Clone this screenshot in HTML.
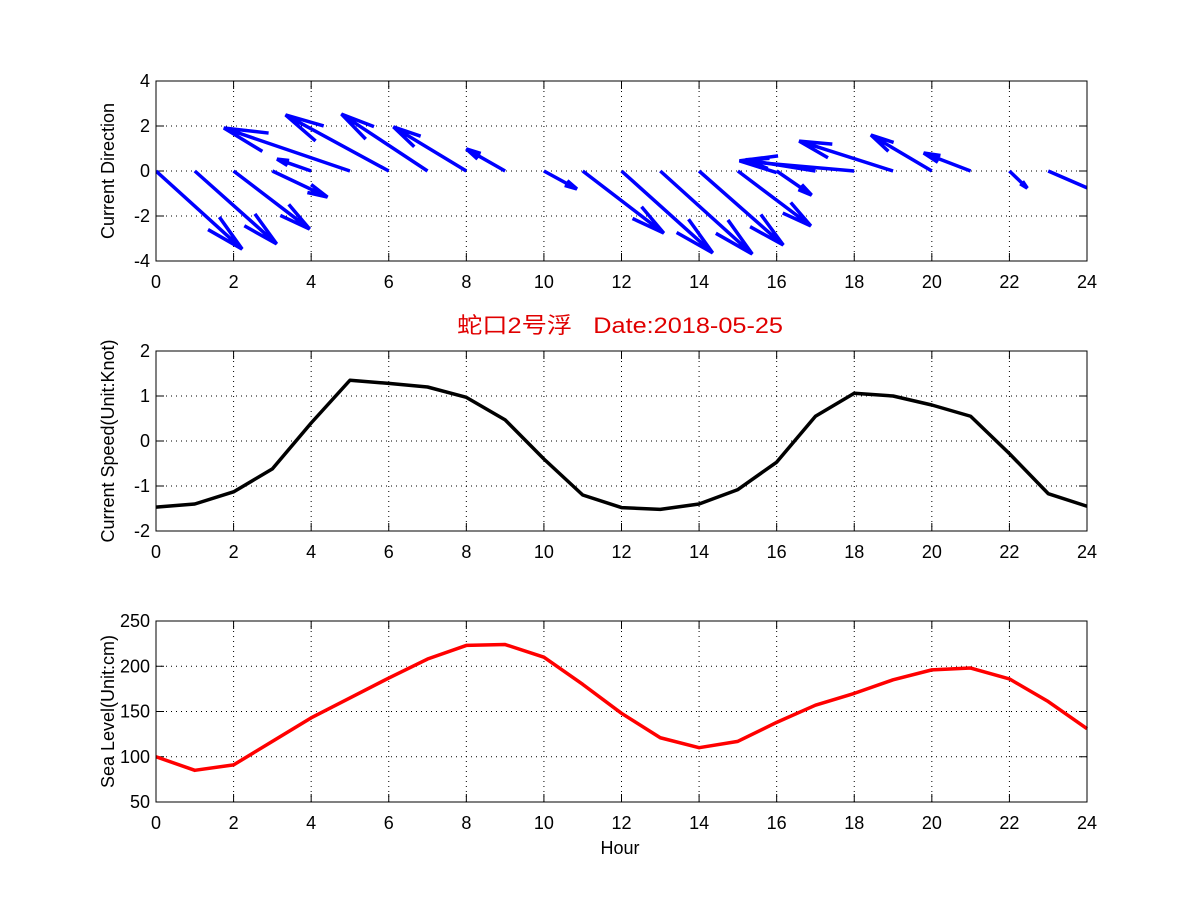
<!DOCTYPE html>
<html><head><meta charset="utf-8"><style>
body{margin:0;background:#fff;}
svg{display:block;font-family:"Liberation Sans","Noto Sans CJK SC",sans-serif;}
</style></head><body>
<svg id="fig" width="1201" height="901" viewBox="0 0 1201 901">
<rect width="1201" height="901" fill="#fff"/>
<text x="620" y="333" text-anchor="middle" font-size="22" textLength="326" lengthAdjust="spacingAndGlyphs" fill="#e00000">蛇口2号浮&#160;&#160;&#160;Date:2018-05-25</text>
<text x="620" y="854" text-anchor="middle" font-size="18">Hour</text>
</svg>
<script>
const hours = [0,1,2,3,4,5,6,7,8,9,10,11,12,13,14,15,16,17,18,19,20,21,22,23,24];
const dirU = [2.22,2.11,1.96,1.42,-0.88,-3.25,-2.66,-2.22,-1.88,-1.0,0.85,2.09,2.35,2.37,2.17,1.88,0.9,-1.8,-2.96,-2.42,-1.57,-1.21,0.46,1.9,0];
const dirV = [-3.47,-3.24,-2.58,-1.16,0.53,1.91,2.49,2.53,1.96,0.98,-0.8,-2.76,-3.64,-3.69,-3.29,-2.44,-1.07,0.5,0.45,1.33,1.6,0.8,-0.76,-1.42,0];
const speed = [-1.47,-1.4,-1.13,-0.62,0.4,1.35,1.28,1.2,0.97,0.47,-0.4,-1.2,-1.48,-1.52,-1.4,-1.08,-0.47,0.55,1.06,1.0,0.8,0.55,-0.28,-1.17,-1.45];
const seaLevel = [100,85,91,117,143,165,187,208,223,224,210,180,148,121,110,117,138,157,170,185,196,198,186,161,131];
const xTicks = [0,2,4,6,8,10,12,14,16,18,20,22,24];
const yTicks1 = [-4,-2,0,2,4];
const yTicks2 = [-2,-1,0,1,2];
const yTicks3 = [50,100,150,200,250];

const NS='http://www.w3.org/2000/svg';
const svg=document.getElementById('fig');
const L=156,R=1087;
function mk(tag,attrs,parent){const e=document.createElementNS(NS,tag);for(const k in attrs)e.setAttribute(k,attrs[k]);(parent||svg).appendChild(e);return e;}
const xs=h=>L+(h-0)/(24-0)*(R-L);

function panel(top,bot,ymin,ymax,yTicks,title,name){
  const g=mk('g',{});
  
  
  const ys=v=>bot-(v-ymin)/(ymax-ymin)*(bot-top);
  mk('rect',{x:L,y:top,width:R-L,height:bot-top,fill:'#fff'},g);
  xTicks.forEach(t=>{
    const x=xs(t);
    if(t>0&&t<24){const gl=mk('line',{x1:x,x2:x,y1:top,y2:bot,stroke:'#000','stroke-width':1,'stroke-dasharray':'1,4'},g);
      
      }
    mk('line',{x1:x,x2:x,y1:bot,y2:bot-8,stroke:'#000'},g);
    mk('line',{x1:x,x2:x,y1:top,y2:top+8,stroke:'#000'},g);
    const tl=mk('text',{x:x,y:bot+27,'text-anchor':'middle','font-size':18},g);tl.textContent=t;
    
    
  });
  yTicks.forEach(t=>{
    const y=ys(t);
    if(t>ymin&&t<ymax){const gl=mk('line',{x1:L,x2:R,y1:y,y2:y,stroke:'#000','stroke-width':1,'stroke-dasharray':'1,4'},g);
      
      }
    mk('line',{x1:L,x2:L+8,y1:y,y2:y,stroke:'#000'},g);
    mk('line',{x1:R,x2:R-8,y1:y,y2:y,stroke:'#000'},g);
    const tl=mk('text',{x:L-6,y:y+6,'text-anchor':'end','font-size':18},g);tl.textContent=t;
    
    
  });
  const cy=(top+bot)/2;
  const yt=mk('text',{x:0,y:0,'text-anchor':'middle','font-size':18,transform:`translate(${L-42},${cy}) rotate(-90)`},g);
  yt.textContent=title;
  
  
  return {g,ys,top,bot};
}
function frame(p){
  const f=mk('rect',{x:L,y:p.top,width:R-L,height:p.bot-p.top,fill:'none',stroke:'#000','stroke-width':1},p.g);
  
  
}

// Panel 1: quiver
const p1=panel(81,261,-4,4,yTicks1,'Current Direction','direction-panel');
mk('clipPath',{id:'c1'},svg).appendChild((()=>{const r=document.createElementNS(NS,'rect');r.setAttribute('x',L);r.setAttribute('y',81);r.setAttribute('width',R-L);r.setAttribute('height',180);return r;})());
const qg=mk('g',{'clip-path':'url(#c1)'},p1.g);
const alpha=0.33,beta=0.22;
hours.forEach((h,i)=>{
  const u=dirU[i],v=dirV[i];
  if(u===0&&v===0)return;
  const x0=xs(h),y0=p1.ys(0),tx=xs(h+u),ty=p1.ys(v);
  const pu=tx-x0,pv=ty-y0;
  const b1x=tx-alpha*(pu+beta*pv),b1y=ty-alpha*(pv-beta*pu);
  const b2x=tx-alpha*(pu-beta*pv),b2y=ty-alpha*(pv+beta*pu);
  const d=`M${x0},${y0}L${tx},${ty}M${b1x},${b1y}L${tx},${ty}L${b2x},${b2y}`;
  const a=mk('path',{d:d,fill:'none',stroke:'#0000ff','stroke-width':3.5,'stroke-linejoin':'miter'},qg);
  
  
});
frame(p1);

// Panel 2: speed
const p2=panel(351,531,-2,2,yTicks2,'Current Speed(Unit:Knot)','speed-panel');
const s2=mk('polyline',{points:hours.map((h,i)=>xs(h)+','+p2.ys(speed[i])).join(' '),fill:'none',stroke:'#000','stroke-width':3.5,'stroke-linejoin':'round'},p2.g);


frame(p2);

// Panel 3: sea level
const p3=panel(621,802,50,250,yTicks3,'Sea Level(Unit:cm)','sea-level-panel');
const s3=mk('polyline',{points:hours.map((h,i)=>xs(h)+','+p3.ys(seaLevel[i])).join(' '),fill:'none',stroke:'#ff0000','stroke-width':3.5,'stroke-linejoin':'round'},p3.g);


frame(p3);
</script>
</body></html>
